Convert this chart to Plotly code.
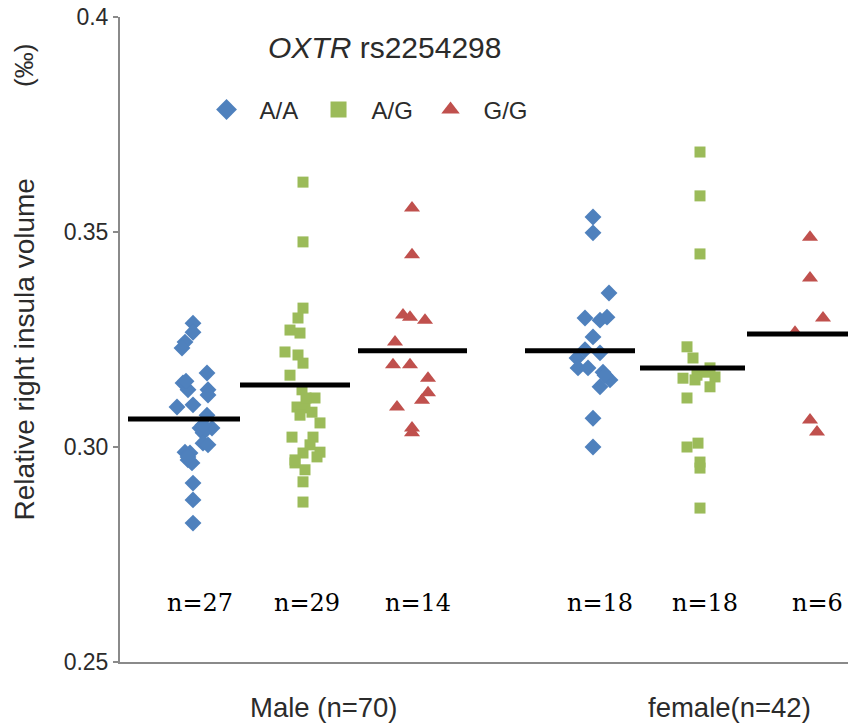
import plotly.graph_objects as go

# ---------------- data ----------------
genotypes = ["A/A", "A/G", "G/G"]
sex_labels = ["Male (n=70)", "female(n=42)"]
n_labels = ["n=27", "n=29", "n=14", "n=18", "n=18", "n=6"]

# group positions on a hidden numeric x axis (male A/A, A/G, G/G, female A/A, A/G, G/G)
group_pos = [0.75, 1.82, 2.93, 4.75, 5.80, 6.92]
sex_pos = [2.04, 6.09]

male_AA = [0.3288, 0.3267, 0.3244, 0.3230, 0.3172, 0.3149, 0.3133, 0.3133, 0.3121,
           0.3093, 0.3098, 0.3074, 0.3044, 0.3044, 0.3033, 0.3009, 0.3005, 0.2988,
           0.2986, 0.2970, 0.2963, 0.2916, 0.2877, 0.2823, 0.3153, 0.3051, 0.2977]
male_AA_jit = [-0.02, -0.02, -0.10, -0.13, 0.12, -0.12, -0.07, 0.13, 0.13,
               -0.18, -0.02, 0.12, 0.05, 0.17, 0.08, 0.08, 0.13, -0.10,
               -0.05, -0.07, -0.03, -0.02, -0.02, -0.02, -0.09, 0.08, -0.07]

male_AG = [0.3616, 0.3477, 0.3323, 0.3300, 0.3272, 0.3265, 0.3221, 0.3214, 0.3195,
           0.3167, 0.3133, 0.3114, 0.3093, 0.3091, 0.3081, 0.3056, 0.3023, 0.3023,
           0.2986, 0.2988, 0.2977, 0.2963, 0.2947, 0.2919, 0.2872, 0.3074, 0.2970,
           0.3005, 0.3114]
male_AG_jit = [0.01, 0.01, 0.01, -0.04, -0.12, -0.02, -0.17, -0.04, 0.01,
               -0.12, 0.00, 0.13, -0.05, 0.03, 0.10, 0.18, -0.10, 0.11,
               0.01, 0.18, 0.15, -0.07, 0.03, 0.01, 0.01, -0.02, -0.07,
               0.08, 0.04]

male_GG = [0.3556, 0.3447, 0.3307, 0.3302, 0.3295, 0.3244, 0.3191, 0.3191, 0.3160,
           0.3126, 0.3109, 0.3093, 0.3044, 0.3033]
male_GG_jit = [-0.01, -0.01, -0.10, -0.03, 0.12, -0.18, -0.20, -0.03, 0.15,
               0.15, 0.09, -0.16, -0.01, -0.01]

female_AA = [0.3535, 0.3498, 0.3358, 0.3300, 0.3295, 0.3302, 0.3256, 0.3219, 0.3207,
             0.3184, 0.3184, 0.3174, 0.3156, 0.3140, 0.3067, 0.3000, 0.3226, 0.3167]
female_AA_jit = [-0.02, -0.02, 0.14, -0.10, 0.05, 0.12, -0.02, 0.05, -0.18,
                 -0.17, -0.07, 0.08, 0.15, 0.05, -0.02, -0.02, -0.10, 0.10]

female_AG = [0.3686, 0.3584, 0.3449, 0.3233, 0.3207, 0.3184, 0.3160, 0.3167, 0.3163,
             0.3140, 0.3114, 0.3000, 0.3009, 0.2965, 0.2951, 0.2858, 0.3174, 0.3156]
female_AG_jit = [0.00, 0.00, 0.00, -0.13, -0.07, 0.10, -0.17, -0.03, 0.15,
                 0.10, -0.13, -0.13, -0.02, 0.00, 0.00, 0.00, 0.05, -0.05]

female_GG = [0.3488, 0.3393, 0.3300, 0.3267, 0.3063, 0.3035]
female_GG_jit = [-0.02, -0.02, 0.11, -0.17, -0.02, 0.05]

# group means (black bars) and their horizontal extents
means = [0.3065, 0.3144, 0.3224, 0.3224, 0.3184, 0.3263]
mean_x0 = [0.08, 1.20, 2.38, 4.05, 5.20, 6.27]
mean_x1 = [1.20, 2.30, 3.47, 5.15, 6.25, 7.28]

# ---------------- styling ----------------
colors = {"A/A": "#4f81bd", "A/G": "#9bbb59", "G/G": "#c0504d"}
symbols = {"A/A": "diamond", "A/G": "square", "G/G": "triangle-up"}
sizes = {"A/A": 13, "A/G": 11, "G/G": 14}
axis_gray = "#8a8a8a"
text_col = "#2b2b2b"
sans = "Liberation Sans, Arial, sans-serif"

groups = {
    "A/A": [(0, male_AA, male_AA_jit), (3, female_AA, female_AA_jit)],
    "A/G": [(1, male_AG, male_AG_jit), (4, female_AG, female_AG_jit)],
    "G/G": [(2, male_GG, male_GG_jit), (5, female_GG, female_GG_jit)],
}

fig = go.Figure()

for g in genotypes:
    xs, ys = [], []
    for gi, vals, jit in groups[g]:
        xs += [group_pos[gi] + j for j in jit]
        ys += vals
    fig.add_trace(go.Scatter(
        x=xs, y=ys, mode="markers", name=g, legendgroup=g, showlegend=False,
        marker=dict(symbol=symbols[g], size=sizes[g], color=colors[g],
                    line=dict(width=0)),
        cliponaxis=False,
    ))
    # legend entry with larger symbol (as in the original legend)
    fig.add_trace(go.Scatter(
        x=[None], y=[None], mode="markers", name=g, legendgroup=g,
        marker=dict(symbol=symbols[g], size=16, color=colors[g], line=dict(width=0)),
    ))

for m, a, b in zip(means, mean_x0, mean_x1):
    fig.add_trace(go.Scatter(
        x=[a, b], y=[m, m], mode="lines", showlegend=False,
        line=dict(color="black", width=5), hoverinfo="skip", cliponaxis=False,
    ))

annotations = []
# title
annotations.append(dict(
    text="<i>OXTR</i> rs2254298", xref="paper", yref="paper",
    x=0.364, y=0.953, xanchor="center", yanchor="middle", showarrow=False,
    font=dict(family=sans, size=30, color=text_col)))
# y-axis title
annotations.append(dict(
    text="Relative right insula volume", xref="paper", yref="paper",
    x=-0.131, y=0.484, xanchor="center", yanchor="middle", textangle=-90,
    showarrow=False,
    font=dict(family=sans, size=28, color=text_col)))
annotations.append(dict(
    text="(‰)", xref="paper", yref="paper",
    x=-0.131, y=0.925, xanchor="center", yanchor="middle", textangle=-90,
    showarrow=False,
    font=dict(family=sans, size=26, color=text_col)))
# n labels
for pos, lab in zip(group_pos, n_labels):
    annotations.append(dict(
        text=lab, xref="x", yref="paper", x=pos + 0.05, y=0.0915,
        xanchor="center", yanchor="middle", showarrow=False,
        font=dict(family="DejaVu Serif, serif", size=24, color="black")))
# sex labels
for pos, lab in zip(sex_pos, sex_labels):
    annotations.append(dict(
        text=lab, xref="x", yref="paper", x=pos, y=-0.0713,
        xanchor="center", yanchor="middle", showarrow=False,
        font=dict(family=sans, size=27.5, color=text_col)))

fig.update_layout(
    width=848, height=726,
    margin=dict(l=120, r=0, t=17, b=64),
    paper_bgcolor="white", plot_bgcolor="white",
    showlegend=True,
    legend=dict(orientation="h", x=0.101, y=0.856, xanchor="left", yanchor="middle",
                itemwidth=56, entrywidth=41, entrywidthmode="pixels",
                font=dict(family=sans, size=24, color=text_col),
                bgcolor="rgba(0,0,0,0)", borderwidth=0),
    annotations=annotations,
    xaxis=dict(range=[0, 7.28], showgrid=False, zeroline=False,
               showline=True, linecolor=axis_gray, linewidth=2,
               showticklabels=False, ticks=""),
    yaxis=dict(range=[0.25, 0.4], showgrid=False, zeroline=False,
               showline=True, linecolor=axis_gray, linewidth=2,
               tickvals=[0.25, 0.30, 0.35, 0.4],
               ticktext=["0.25", "0.30", "0.35", "0.4"],
               ticks="outside", ticklen=5, tickcolor=axis_gray, tickwidth=1.5,
               tickfont=dict(family=sans, size=23, color=text_col)),
)

fig.write_html("out.html")
